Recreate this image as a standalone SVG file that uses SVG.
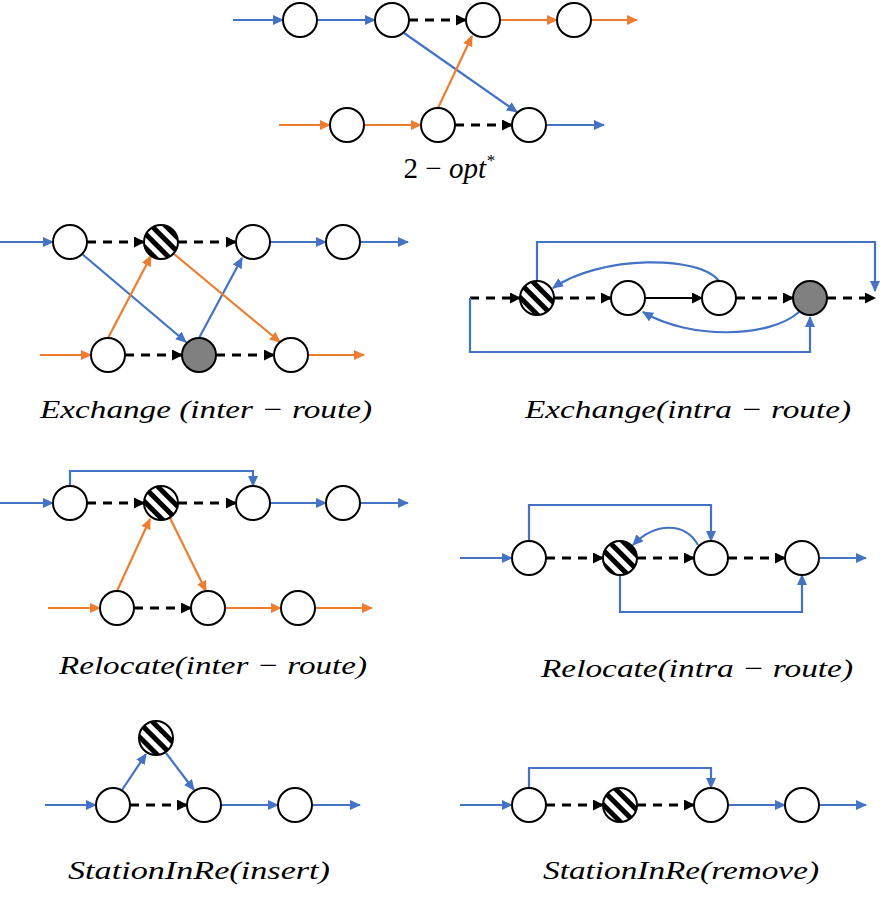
<svg xmlns="http://www.w3.org/2000/svg" width="887" height="902" viewBox="0 0 887 902">
<style>
.n{fill:#fff;stroke:#000;stroke-width:2}
.h{fill:url(#hatch);stroke:#000;stroke-width:2}
.g{fill:#808080;stroke:#000;stroke-width:2}
.b{stroke:#4472C4;stroke-width:2.2;fill:none;marker-end:url(#ab)}
.o{stroke:#ED7D31;stroke-width:2.2;fill:none;marker-end:url(#ao)}
.d{stroke:#000;stroke-width:2.8;fill:none;stroke-dasharray:9,7;marker-end:url(#ak)}
.s{stroke:#000;stroke-width:2.2;fill:none;marker-end:url(#ak)}
text{font-family:"Liberation Serif",serif;font-style:italic;font-size:26px;fill:#000;text-anchor:middle}
</style>
<defs>
<pattern id="hatch" width="10" height="10" patternUnits="userSpaceOnUse" patternTransform="rotate(45)">
<rect width="10" height="10" fill="#fff"/><rect width="10" height="5" fill="#000"/>
</pattern>
<marker id="ab" markerWidth="11" markerHeight="10" refX="10" refY="5" orient="auto" markerUnits="userSpaceOnUse" viewBox="0 0 11 10"><path d="M0,0L11,5L0,10z" fill="#4472C4"/></marker>
<marker id="ao" markerWidth="11" markerHeight="10" refX="10" refY="5" orient="auto" markerUnits="userSpaceOnUse" viewBox="0 0 11 10"><path d="M0,0L11,5L0,10z" fill="#ED7D31"/></marker>
<marker id="ak" markerWidth="11" markerHeight="11" refX="10" refY="5.5" orient="auto" markerUnits="userSpaceOnUse" viewBox="0 0 11 11"><path d="M0,0L11,5.5L0,11z" fill="#000"/></marker>
</defs>
<g id="connectors">
<path class="b" d="M233,20H283"/><path class="b" d="M317,20H375"/><path class="d" d="M409,20H466"/>
<path class="o" d="M500,20H557"/><path class="o" d="M591,20H637"/>
<path class="b" d="M404,33L517,112"/><path class="o" d="M438,108L472,36"/>
<path class="o" d="M279,125H330"/><path class="o" d="M364,125H421"/><path class="d" d="M455,125H512"/><path class="b" d="M546,125H604"/>
<path class="b" d="M0,242H53"/><path class="d" d="M87,242H144"/><path class="d" d="M178,242H236"/><path class="b" d="M270,242H326"/><path class="b" d="M360,242H408"/>
<path class="o" d="M40,355H91"/><path class="d" d="M125,355H182"/><path class="d" d="M216,355H274"/><path class="o" d="M308,355H364"/>
<path class="b" d="M82,254L186,342"/><path class="o" d="M108,338L151,256"/><path class="b" d="M199,338L242,258"/><path class="o" d="M174,254L280,342"/>
<path class="d" d="M470,298H520"/><path class="d" d="M554,298H611"/><path class="s" d="M645,298H702"/><path class="d" d="M736,298H793"/><path class="d" d="M827,298H875"/>
<path class="b" d="M537,281V242H875V291"/><path class="b" d="M470,298V352H810V317"/>
<path class="b" d="M719,281C700,255 600,255 553,288"/><path class="b" d="M799,312C770,338 690,340 643,312"/>
<path class="b" d="M0,503H53"/><path class="d" d="M87,503H144"/><path class="d" d="M178,503H236"/><path class="b" d="M270,503H326"/><path class="b" d="M360,503H408"/>
<path class="b" d="M70,486V471H253V486"/>
<path class="o" d="M48,608H100"/><path class="d" d="M134,608H191"/><path class="o" d="M225,608H281"/><path class="o" d="M315,608H372"/>
<path class="o" d="M117,591L150,519"/><path class="o" d="M170,518L206,591"/>
<path class="b" d="M460,558H512"/><path class="d" d="M546,558H603"/><path class="d" d="M637,558H694"/><path class="d" d="M728,558H785"/><path class="b" d="M819,558H866"/>
<path class="b" d="M529,541V505H711V541"/><path class="b" d="M620,575V612H802V575"/>
<path class="b" d="M698,545C685,522 655,522 633,545"/>
<path class="b" d="M45,805H96"/><path class="d" d="M130,805H187"/><path class="b" d="M221,805H278"/><path class="b" d="M312,805H360"/>
<path class="b" d="M122,790L146,754"/><path class="b" d="M166,753L194,790"/>
<path class="b" d="M460,805H512"/><path class="d" d="M546,805H603"/><path class="d" d="M637,805H694"/><path class="b" d="M728,805H785"/><path class="b" d="M819,805H866"/>
<path class="b" d="M529,788V768H711V788"/>
</g>
<g id="n-2opt"><circle class="n" cx="300" cy="20" r="17"/><circle class="n" cx="392" cy="20" r="17"/><circle class="n" cx="483" cy="20" r="17"/><circle class="n" cx="574" cy="20" r="17"/><circle class="n" cx="347" cy="125" r="17"/><circle class="n" cx="438" cy="125" r="17"/><circle class="n" cx="529" cy="125" r="17"/></g>
<g id="n-exinter"><circle class="n" cx="70" cy="242" r="17"/><circle class="h" cx="161" cy="242" r="17"/><circle class="n" cx="253" cy="242" r="17"/><circle class="n" cx="343" cy="242" r="17"/><circle class="n" cx="108" cy="355" r="17"/><circle class="g" cx="199" cy="355" r="17"/><circle class="n" cx="291" cy="355" r="17"/></g>
<g id="n-exintra"><circle class="h" cx="537" cy="298" r="17"/><circle class="n" cx="628" cy="298" r="17"/><circle class="n" cx="719" cy="298" r="17"/><circle class="g" cx="810" cy="298" r="17"/></g>
<g id="n-relinter"><circle class="n" cx="70" cy="503" r="17"/><circle class="h" cx="161" cy="503" r="17"/><circle class="n" cx="253" cy="503" r="17"/><circle class="n" cx="343" cy="503" r="17"/><circle class="n" cx="117" cy="608" r="17"/><circle class="n" cx="208" cy="608" r="17"/><circle class="n" cx="298" cy="608" r="17"/></g>
<g id="n-relintra"><circle class="n" cx="529" cy="558" r="17"/><circle class="h" cx="620" cy="558" r="17"/><circle class="n" cx="711" cy="558" r="17"/><circle class="n" cx="802" cy="558" r="17"/></g>
<g id="n-insert"><circle class="n" cx="113" cy="805" r="17"/><circle class="n" cx="204" cy="805" r="17"/><circle class="n" cx="295" cy="805" r="17"/><circle class="h" cx="156" cy="738" r="17"/></g>
<g id="n-remove"><circle class="n" cx="529" cy="805" r="17"/><circle class="h" cx="620" cy="805" r="17"/><circle class="n" cx="711" cy="805" r="17"/><circle class="n" cx="802" cy="805" r="17"/></g>
<g id="labels">
<text x="449" y="178" style="font-size:29px"><tspan style="font-style:normal">2 − </tspan>opt<tspan style="font-size:17px" dy="-12">*</tspan></text>
<text x="206" y="418" textLength="332" lengthAdjust="spacingAndGlyphs">Exchange (inter − route)</text>
<text x="688" y="418" textLength="326" lengthAdjust="spacingAndGlyphs">Exchange(intra − route)</text>
<text x="213" y="674" textLength="308" lengthAdjust="spacingAndGlyphs">Relocate(inter − route)</text>
<text x="697" y="677" textLength="312" lengthAdjust="spacingAndGlyphs">Relocate(intra − route)</text>
<text x="199" y="879" textLength="262" lengthAdjust="spacingAndGlyphs">StationInRe(insert)</text>
<text x="681" y="879" textLength="276" lengthAdjust="spacingAndGlyphs">StationInRe(remove)</text>
</g>
</svg>
